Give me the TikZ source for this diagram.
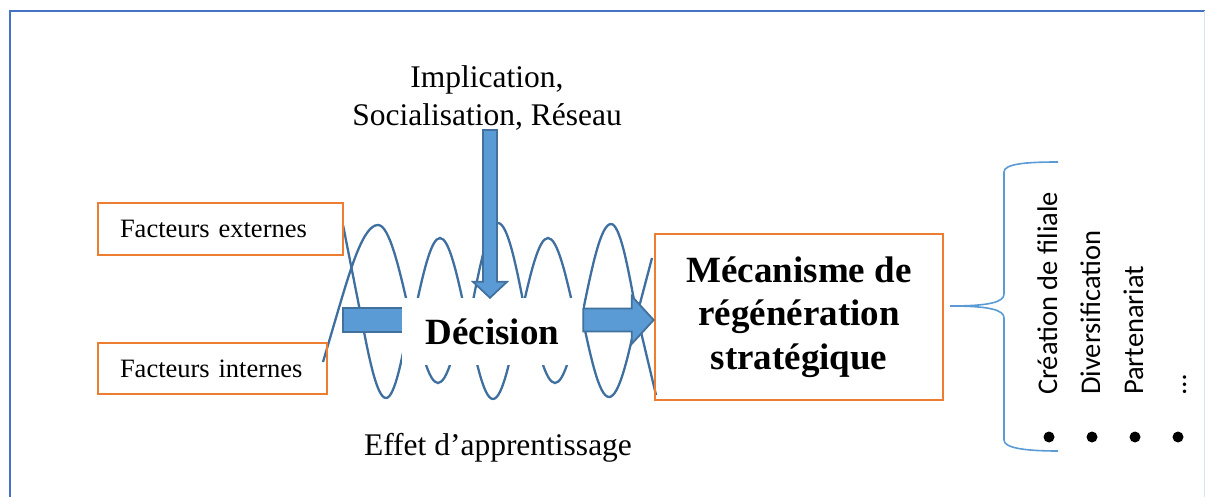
\documentclass[tikz,border=0pt]{standalone}
\usepackage{fontspec}
\setmainfont{Liberation Serif}
\newfontfamily\calibrifont{Carlito}
\usetikzlibrary{calc}
\definecolor{orng}{HTML}{ED7D31}
\definecolor{afill}{HTML}{5B9BD5}
\definecolor{adraw}{HTML}{41719C}
\definecolor{coilc}{HTML}{3F6F9F}
\definecolor{bracec}{HTML}{5B9BD5}
\definecolor{bordc}{HTML}{4472C4}
\pgfdeclarelayer{bg}
\pgfsetlayers{bg,main}
% block arrow: start, end, shaft half width, head half width, head length (pt)
\newcommand\blockarrow[5]{%
  \path[draw=adraw, fill=afill, line width=1.8pt]
    let \p1=(#1), \p2=(#2),
        \n1={veclen(\x2-\x1,\y2-\y1)},
        \n2={atan2(\y2-\y1,\x2-\x1)} in
    [shift={(\p1)}, rotate=\n2]
    (0pt,-#3pt) -- ({\n1*1pt-#5pt},-#3pt) -- ({\n1*1pt-#5pt},-#4pt) -- ({\n1*1pt},0pt)
    -- ({\n1*1pt-#5pt},#4pt) -- ({\n1*1pt-#5pt},#3pt) -- (0pt,#3pt) -- cycle;}
\begin{document}
\begin{tikzpicture}[x=1pt,y=-1pt,
  obox/.style={draw=orng, line width=2.7pt, inner sep=0pt},
  coil/.style={draw=coilc, line width=2.3pt},
  brace/.style={draw=bracec, line width=1.6pt},
  vtext/.style={rotate=90, anchor=base west, inner sep=0pt,
    font=\calibrifont\fontsize{28.5}{34}\selectfont},
  bullet/.style={circle, fill=black, inner sep=0pt, minimum size=11pt}]
\useasboundingbox (0,0) rectangle (1205,497);

% page border
\draw[bordc, line width=2.8pt] (10,497) -- (10,11) -- (1205,11);
\draw[bordc!20, line width=1pt] (1204.5,11) -- (1204.5,497);

% nodes
\node[obox, text width=201pt, inner xsep=22pt, minimum height=52pt, align=left,
  font=\fontsize{26.5}{30}\selectfont] (fe) at (220.5,229) {Facteurs externes};
\node[obox, text width=185pt, inner xsep=22pt, minimum height=51pt, align=left,
  font=\fontsize{26.5}{30}\selectfont] (fi) at (212.5,368.5) {Facteurs internes};
\node[fill=white, minimum width=181pt, minimum height=67pt, inner sep=0pt,
  font=\bfseries\fontsize{37}{44}\selectfont] (dec) at (492.5,331.5) {Décision};
\node[obox, minimum width=288pt, minimum height=166pt, align=center,
  font=\bfseries\fontsize{37}{43.5}\selectfont] (mec) at (799,317)
  {Mécanisme de\\régénération\\stratégique};
\node[font=\fontsize{31.5}{38}\selectfont, align=center, inner sep=0pt] (impl)
  at (487,97.5) {Implication,\\Socialisation, Réseau};
\node[font=\fontsize{31.5}{38}\selectfont, inner sep=0pt, anchor=base] (eff)
  at (498,455) {Effet d’apprentissage};

\coordinate (lstart) at (343,320);
\coordinate (lend) at (425,320);
\coordinate (tstart) at (490,130);

% coil and left arrow (behind the Décision box)
\begin{pgfonlayer}{bg}
\draw[coil] (323,362) -- (338,311) sin (378,225) cos (409,311);
\draw[coil] (343,225) -- (360,311) sin (386,398) cos (411,311);
\draw[coil] (415,311) sin (440,238) cos (465,311);
\draw[coil] (412,311) sin (438,383) cos (464,311);
\draw[coil] (471,311) sin (498,223) cos (525,311);
\draw[coil] (466,311) sin (493,399) cos (520,311);
\draw[coil] (522,311) sin (548,238) cos (574,311);
\draw[coil] (529,311) sin (555,383) cos (581,311);
\draw[coil] (583,311) sin (611,224) cos (636,311) -- (656,395);
\draw[coil] (581,311) sin (609,397) cos (638,311) -- (652,258);
\blockarrow{lstart}{lend}{12}{20}{22}
\end{pgfonlayer}

% arrows
\blockarrow{tstart}{tstart |- dec.north}{7}{17}{16}
\blockarrow{dec.east |- lstart}{mec.west |- lstart}{11.5}{24}{22}

% brace
\draw[brace] (1058,162) .. controls (1025,162) and (1004,164) .. (1004,172)
  -- (1004,294) .. controls (1004,302) and (990,306) .. (950,306)
  .. controls (990,306) and (1004,310) .. (1004,318)
  -- (1004,440) .. controls (1004,448) and (1025,451) .. (1058,451);

% list
\node[vtext] (i1) at (1057,395) {Création de filiale};
\node[vtext] (i2) at (1100,395) {Diversification};
\node[vtext] (i3) at (1143,395) {Partenariat};
\node[vtext] (i4) at (1186,395) {…};
\node[bullet] (b1) at (1049,437) {};
\node[bullet] (b2) at (1092,437) {};
\node[bullet] (b3) at (1135,437) {};
\node[bullet] (b4) at (1178,437) {};
\end{tikzpicture}
\end{document}
